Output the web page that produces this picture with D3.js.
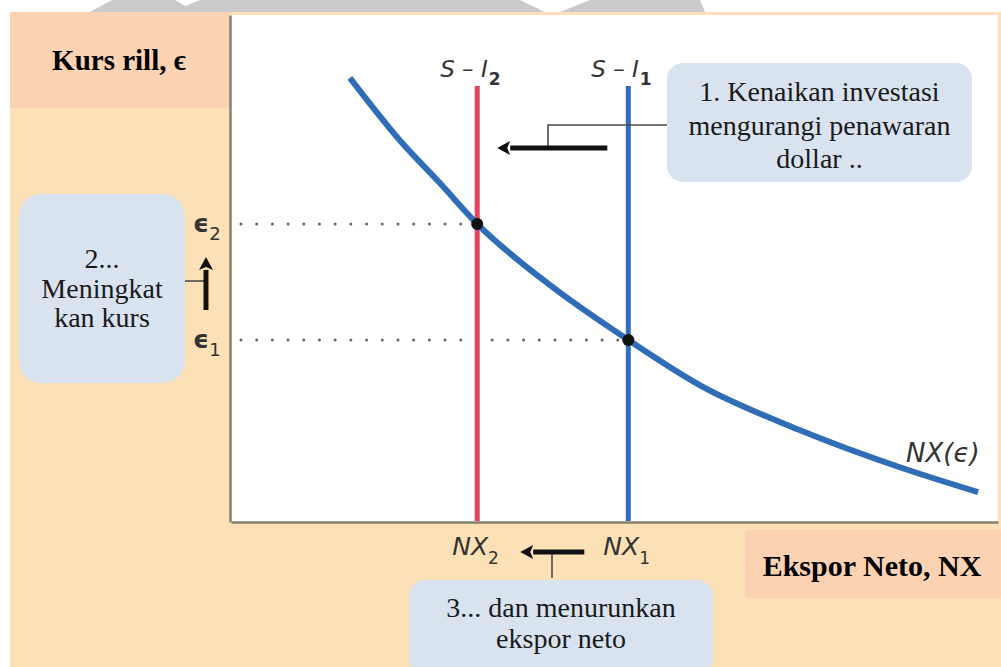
<!DOCTYPE html>
<html>
<head>
<meta charset="utf-8">
<script src="https://cdn.jsdelivr.net/npm/d3@7"></script>
<style>
  html, body { margin: 0; padding: 0; background: #ffffff; }
  svg { display: block; }
</style>
</head>
<body>
<svg id="chart" width="1001" height="667"></svg>
<script>
const curveNX = [15.5, 22.0, 27.2, 32.1, 41.6, 51.8, 61.1, 74.2, 87.2, 97.4];
const curveE  = [87.6, 75.3, 66.9, 58.8, 46.7, 35.9, 27.0, 18.1, 10.8, 5.9];

// S - I lines (vertical), new one first
const supplyNames = ['2', '1'];
const supplyNX = [32.1, 51.8];
const supplyColors = ['#e8415f', '#2f6fb9'];
const supplyTop = 86;

// equilibrium exchange rates
const rateNames = ['2', '1'];
const rateValues = [58.8, 35.9];

const width = 1001, height = 667;
const plot = { left: 231, right: 998, top: 15, bottom: 522 };

const svg = d3.select('#chart');

const x = d3.scaleLinear().domain([0, 100]).range([plot.left, plot.right]);
const y = d3.scaleLinear().domain([0, 100]).range([plot.bottom, plot.top]);

const serif = '"Liberation Serif", "Times New Roman", serif';
const sans = '"DejaVu Sans", "Noto Sans", sans-serif';

// watermark strip at the very top
svg.append('path')
    .attr('d', 'M90,12 L112,0 L175,0 L185,6 L200,0 L520,0 L545,12 L560,12 L590,0 L700,0 L705,12 Z')
    .attr('fill', '#cacaca');

// backgrounds
svg.append('rect')
    .attr('x', 10).attr('y', 12)
    .attr('width', width - 10).attr('height', height - 12)
    .attr('fill', '#fde1b6');

svg.append('rect')
    .attr('x', plot.left).attr('y', plot.top)
    .attr('width', plot.right - plot.left).attr('height', plot.bottom - plot.top)
    .attr('fill', '#ffffff');

// y-axis title box
svg.append('rect')
    .attr('x', 10).attr('y', 12)
    .attr('width', 219).attr('height', 96)
    .attr('fill', '#fbd3b3');

svg.append('text')
    .attr('x', 119).attr('y', 70)
    .attr('text-anchor', 'middle')
    .style('font-family', serif)
    .style('font-size', '29px')
    .style('font-weight', 'bold')
    .text('Kurs rill, \u03f5');

// x-axis title box
svg.append('rect')
    .attr('x', 745).attr('y', 530)
    .attr('width', 256).attr('height', 68)
    .attr('fill', '#fbd3b3');

svg.append('text')
    .attr('x', 872).attr('y', 576)
    .attr('text-anchor', 'middle')
    .style('font-family', serif)
    .style('font-size', '30px')
    .style('font-weight', 'bold')
    .text('Ekspor Neto, NX');

// axes
const axisColor = '#8a7e6e';
const xAxis = svg.append('g')
    .attr('transform', `translate(0, ${plot.bottom})`)
    .call(d3.axisBottom(x).tickValues([]).tickSizeOuter(0));
const yAxis = svg.append('g')
    .attr('transform', `translate(${plot.left - 1}, 0)`)
    .call(d3.axisLeft(y).tickValues([]).tickSizeOuter(0));
[xAxis, yAxis].forEach(a => a.select('.domain')
    .attr('stroke', axisColor)
    .attr('stroke-width', 2.5));

// dotted guides to the equilibrium points
const eqPoints = rateValues.map((r, i) => ({ nx: supplyNX[i], e: r }));
svg.selectAll('.guide')
    .data(eqPoints)
    .enter().append('line')
    .attr('class', 'guide')
    .attr('x1', x(1.3))
    .attr('x2', d => x(d.nx) - 8)
    .attr('y1', d => y(d.e))
    .attr('y2', d => y(d.e))
    .attr('stroke', '#666')
    .attr('stroke-width', 3)
    .attr('stroke-linecap', 'round')
    .attr('stroke-dasharray', '0 15.7');

// S - I vertical lines
svg.selectAll('.supply')
    .data(supplyNX)
    .enter().append('line')
    .attr('class', 'supply')
    .attr('x1', d => x(d)).attr('x2', d => x(d))
    .attr('y1', y(supplyTop)).attr('y2', plot.bottom - 1)
    .attr('stroke', (d, i) => supplyColors[i])
    .attr('stroke-width', 5);

// NX(e) curve
const line = d3.line()
    .x(d => x(d[0]))
    .y(d => y(d[1]))
    .curve(d3.curveMonotoneX);

svg.append('path')
    .datum(curveNX.map((v, i) => [v, curveE[i]]))
    .attr('d', line)
    .attr('fill', 'none')
    .attr('stroke', '#2f6eb6')
    .attr('stroke-width', 6);

// equilibrium dots
svg.selectAll('.eq')
    .data(eqPoints)
    .enter().append('circle')
    .attr('class', 'eq')
    .attr('cx', d => x(d.nx))
    .attr('cy', d => y(d.e))
    .attr('r', 6)
    .attr('fill', '#111');

// S - I labels
supplyNX.forEach((v, i) => {
    const t = svg.append('text')
        .attr('x', x(v) - 37).attr('y', 77)
        .style('font-family', sans)
        .style('font-style', 'italic')
        .style('font-size', '23px')
        .style('fill', '#333');
    t.append('tspan').text('S \u2013 I');
    t.append('tspan')
        .attr('dy', 8).attr('dx', 1)
        .style('font-size', '17px')
        .style('font-style', 'normal')
        .style('font-weight', 'bold')
        .text(supplyNames[i]);
});

// NX tick labels
supplyNX.forEach((v, i) => {
    const t = svg.append('text')
        .attr('x', x(v) - 25).attr('y', 555)
        .style('font-family', sans)
        .style('font-style', 'italic')
        .style('font-size', '25px')
        .style('fill', '#333');
    t.append('tspan').text('NX');
    t.append('tspan')
        .attr('dy', 9)
        .style('font-size', '17px')
        .style('font-style', 'normal')
        .text(supplyNames[i]);
});

// epsilon tick labels
rateValues.forEach((v, i) => {
    const t = svg.append('text')
        .attr('x', 193).attr('y', y(v) + 8)
        .style('font-family', sans)
        .style('font-size', '25px')
        .style('font-weight', 'bold')
        .style('fill', '#333');
    t.append('tspan').text('\u03f5');
    t.append('tspan')
        .attr('dy', 8)
        .style('font-size', '18px')
        .style('font-weight', 'normal')
        .text(rateNames[i]);
});

// NX(e) label
svg.append('text')
    .attr('x', 906).attr('y', 462)
    .style('font-family', sans)
    .style('font-style', 'italic')
    .style('font-size', '26px')
    .style('fill', '#333')
    .text('NX(\u03f5)');

// arrows
function arrow(x1, y1, x2, y2) {
    const ang = Math.atan2(y2 - y1, x2 - x1);
    const head = 13, half = 7;
    const bx = x2 - head * Math.cos(ang), by = y2 - head * Math.sin(ang);
    svg.append('line')
        .attr('x1', x1).attr('y1', y1).attr('x2', bx).attr('y2', by)
        .attr('stroke', '#111').attr('stroke-width', 5);
    const px = -Math.sin(ang) * half, py = Math.cos(ang) * half;
    svg.append('path')
        .attr('d', `M${x2},${y2} L${bx + px},${by + py} L${bx + 3 * Math.cos(ang)},${by + 3 * Math.sin(ang)} L${bx - px},${by - py} Z`)
        .attr('fill', '#111');
}
function connector(points) {
    svg.append('path')
        .attr('d', d3.line()(points))
        .attr('fill', 'none')
        .attr('stroke', '#4a4a4a')
        .attr('stroke-width', 1.6);
}

const aY = 148;
connector([[548, aY], [548, 125], [667, 125]]);
arrow(x(supplyNX[1]) - 21, aY, x(supplyNX[0]) + 20, aY);

connector([[185, 281], [206, 281]]);
arrow(206, y(rateValues[1]) - 30, 206, y(rateValues[0]) + 33);

connector([[552, 552], [552, 578]]);
arrow(x(supplyNX[1]) - 44, 552, x(supplyNX[0]) + 43, 552);

// note boxes
const boxFill = '#d9e3ef';
function noteBox(bx, by, bw, bh, r, lines, baseline, step) {
    svg.append('rect')
        .attr('x', bx).attr('y', by)
        .attr('width', bw).attr('height', bh)
        .attr('rx', r).attr('ry', r)
        .attr('fill', boxFill);
    svg.append('text')
        .attr('text-anchor', 'middle')
        .style('font-family', serif)
        .style('font-size', '28px')
        .style('fill', '#1a1a1a')
        .selectAll('tspan')
        .data(lines)
        .enter().append('tspan')
        .attr('x', bx + bw / 2)
        .attr('y', (d, i) => baseline + i * step)
        .text(d => d);
}

noteBox(667, 63, 305, 119, 16, ['1. Kenaikan investasi', 'mengurangi penawaran', 'dollar ..'], 101, 33.5);
noteBox(19, 194, 166, 189, 22, ['2...', 'Meningkat', 'kan kurs'], 268, 29.5);
noteBox(409, 580, 304, 95, 16, ['3... dan menurunkan', 'ekspor neto'], 617, 31);
</script>
</body>
</html>
